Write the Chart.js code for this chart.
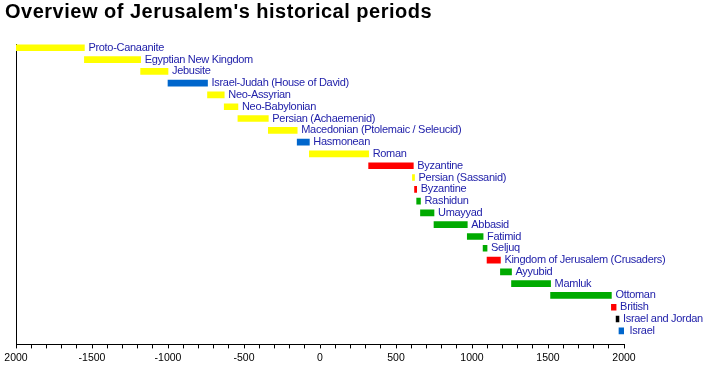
<!DOCTYPE html>
<html>
<head>
<meta charset="utf-8">
<title>Overview of Jerusalem's historical periods</title>
<script src="https://cdn.jsdelivr.net/npm/chart.js@4/dist/chart.umd.min.js"></script>
<style>
    body { margin: 0; background: #fff; }
    .wrap { position: relative; width: 708px; height: 370px; }
    .chart-title {
        position: absolute; left: 5px; top: 0px;
        font: bold 20px "Liberation Sans", Arial, sans-serif;
        letter-spacing: 0.5px;
        color: #000; margin: 0;
    }
</style>
</head>
<body>
<div class="wrap">
    <h1 class="chart-title">Overview of Jerusalem's historical periods</h1>
    <canvas id="periodChart"></canvas>
</div>
<script>
// Periods, top to bottom
const periods = [
    'Proto-Canaanite', 'Egyptian New Kingdom', 'Jebusite', 'Israel-Judah (House of David)',
    'Neo-Assyrian', 'Neo-Babylonian', 'Persian (Achaemenid)', 'Macedonian (Ptolemaic / Seleucid)',
    'Hasmonean', 'Roman', 'Byzantine', 'Persian (Sassanid)', 'Byzantine', 'Rashidun',
    'Umayyad', 'Abbasid', 'Fatimid', 'Seljuq', 'Kingdom of Jerusalem (Crusaders)',
    'Ayyubid', 'Mamluk', 'Ottoman', 'British', 'Israel and Jordan', 'Israel'
];
const startYears = [
    -2000, -1550, -1180, -1000, -740, -630, -540, -340, -150, -70, 320, 608, 622, 636,
    661, 750, 969, 1073, 1099, 1187, 1260, 1517, 1917, 1948, 1967
];
const endYears = [
    -1550, -1180, -1000, -740, -630, -540, -340, -150, -70, 320, 614, 622, 636, 661,
    750, 969, 1073, 1099, 1187, 1260, 1517, 1917, 1948, 1967, 2010
];
const barColors = [
    '#ffff00', '#ffff00', '#ffff00', '#0066cc', '#ffff00', '#ffff00', '#ffff00', '#ffff00',
    '#0066cc', '#ffff00', '#ff0000', '#ffff00', '#ff0000', '#00aa00', '#00aa00', '#00aa00',
    '#00aa00', '#00aa00', '#ff0000', '#00aa00', '#00aa00', '#00aa00', '#ff0000', '#000000',
    '#0066cc'
];
const tickValues = [-2000, -1500, -1000, -500, 0, 500, 1000, 1500, 2000];
const tickLabels = ['2000', '-1500', '-1000', '-500', '0', '500', '1000', '1500', '2000'];

const labelColor = '#2222aa';

// Period names written just right of each bar
const barLabels = {
    id: 'barLabels',
    afterDatasetsDraw(chart) {
        const ctx = chart.ctx;
        const meta = chart.getDatasetMeta(0);
        ctx.save();
        ctx.font = '11px "Liberation Sans", Arial, sans-serif';
        if ('letterSpacing' in ctx) ctx.letterSpacing = '-0.3px';
        ctx.fillStyle = labelColor;
        ctx.textAlign = 'left';
        ctx.textBaseline = 'middle';
        meta.data.forEach((bar, i) => {
            const right = Math.max(bar.x, bar.base);
            ctx.fillText(periods[i], right + 4, bar.y);
        });
        ctx.restore();
    }
};

const ctx = document.getElementById('periodChart');
new Chart(ctx, {
    type: 'bar',
    data: {
        datasets: [{
            data: periods.map((p, i) => ({ x: [startYears[i], endYears[i]], y: i })),
            backgroundColor: barColors,
            borderWidth: 0,
            barThickness: 6
        }]
    },
    options: {
        indexAxis: 'y',
        responsive: true,
        maintainAspectRatio: false,
        animation: false,
        layout: {
            padding: { top: 44, left: 16, right: 84, bottom: 3 }
        },
        plugins: {
            legend: { display: false },
            tooltip: { enabled: false }
        },
        scales: {
            x: {
                type: 'linear',
                min: -2000,
                max: 2000,
                grid: {
                    drawOnChartArea: false,
                    drawTicks: true,
                    tickLength: 4,
                    color: '#000'
                },
                border: { display: true, color: '#000', width: 1 },
                ticks: {
                    stepSize: 100,
                    autoSkip: false,
                    maxRotation: 0,
                    color: '#000',
                    padding: 3,
                    font: { family: '"Liberation Sans", Arial, sans-serif', size: 10.5 },
                    callback: (v) => {
                        const k = tickValues.indexOf(v);
                        return k >= 0 ? tickLabels[k] : '';
                    }
                }
            },
            y: {
                type: 'linear',
                reverse: true,
                offset: false,
                min: -0.32,
                max: 25.15,
                grid: { display: false, drawTicks: false, offset: false },
                border: { display: true, color: '#000', width: 1 },
                ticks: { display: false }
            }
        }
    },
    plugins: [barLabels]
});
</script>
</body>
</html>
